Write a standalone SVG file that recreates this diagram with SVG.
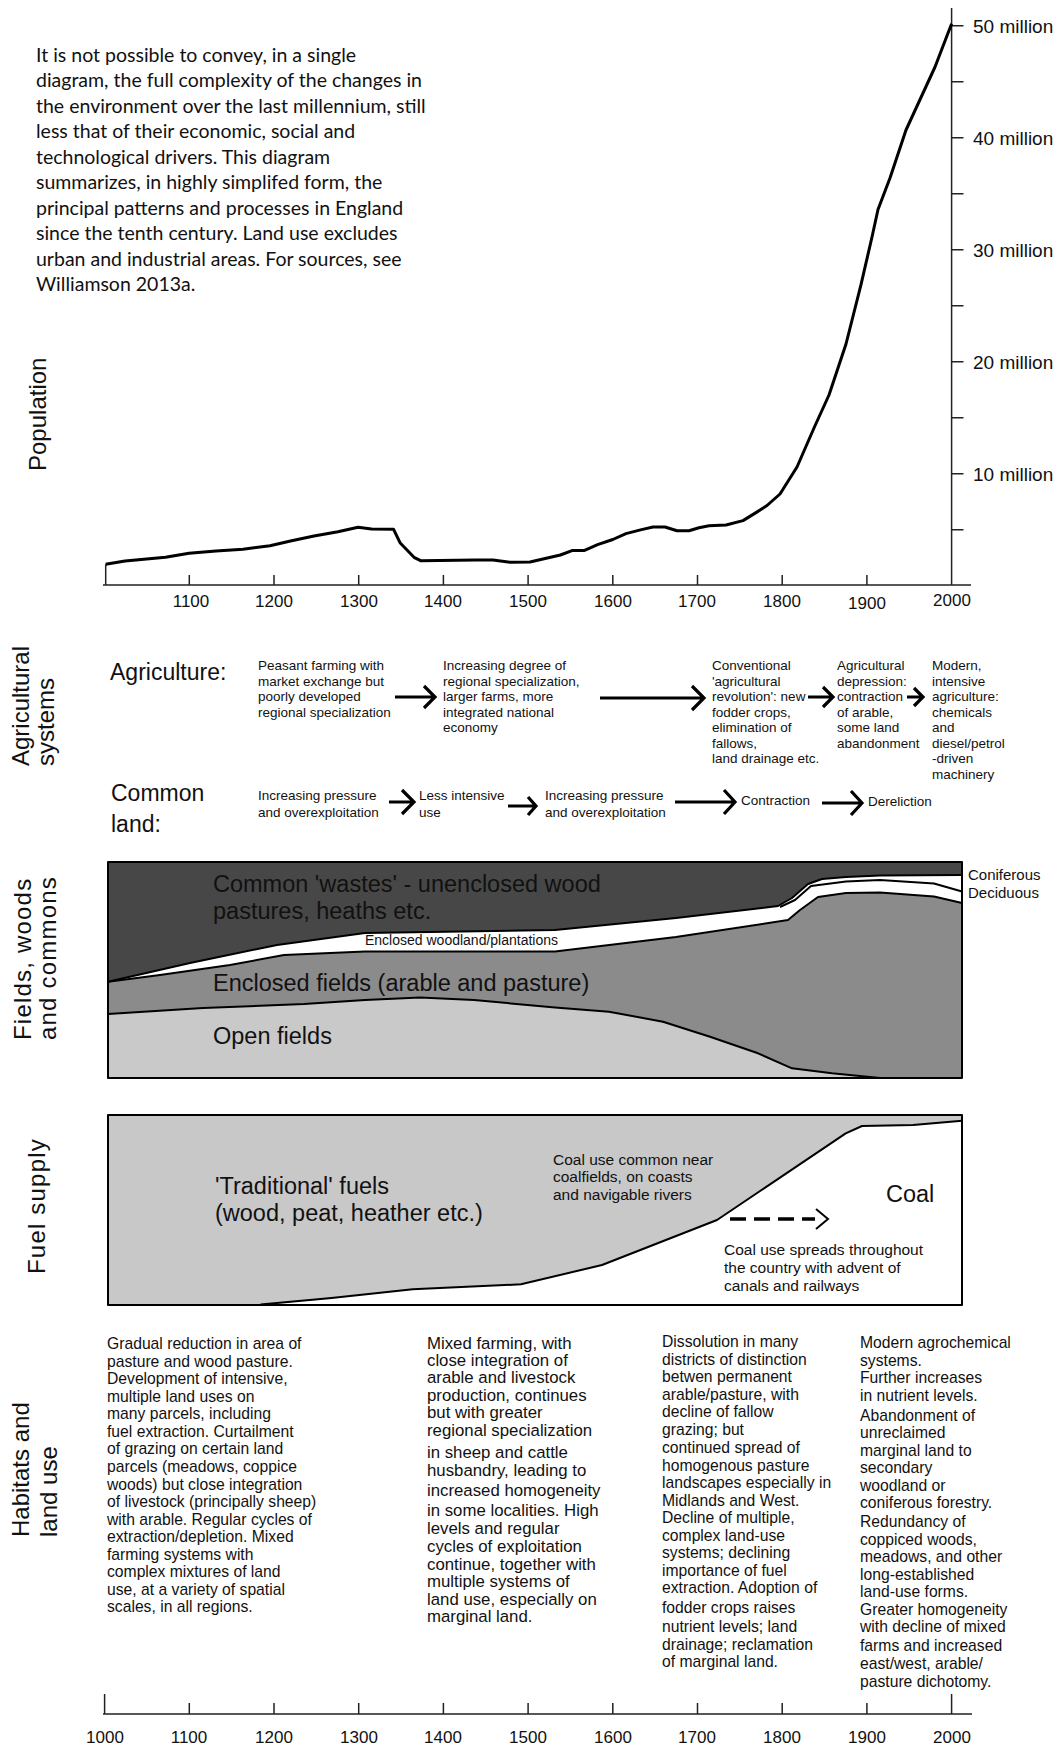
<svg xmlns="http://www.w3.org/2000/svg" width="1060" height="1748" viewBox="0 0 1060 1748">
<style>
.t{font-family:"Liberation Sans",Arial,sans-serif;fill:#111}
.intro{font-family:Lato,"Open Sans",sans-serif;font-size:19.5px;fill:#111}
.side{font-size:24px}
.sp{letter-spacing:1.2px}
.yl{font-size:19px}
.yr{font-size:17px;text-anchor:middle}
.ag{font-size:13.5px}
.big{font-size:23px}
.ch{font-size:23.5px}
.sm{font-size:15px}
.fn{font-size:15.5px}
.hb{font-size:15.7px}
.hb2{font-size:16.8px}
.ax{stroke:#222;stroke-width:1.5;fill:none}
.arr{stroke:#000;stroke-width:3.2;fill:none}
.bd{stroke:#000;stroke-width:2;fill:none;stroke-linejoin:round}
</style>
<rect width="1060" height="1748" fill="#fff"/>

<g id="intro" class="intro">
<text x="36" y="61.5">It is not possible to convey, in a single</text>
<text x="36" y="87">diagram, the full complexity of the changes in</text>
<text x="36" y="112.5">the environment over the last millennium, still</text>
<text x="36" y="138">less that of their economic, social and</text>
<text x="36" y="163.5">technological drivers. This diagram</text>
<text x="36" y="189">summarizes, in highly simplifed form, the</text>
<text x="36" y="214.5">principal patterns and processes in England</text>
<text x="36" y="240">since the tenth century. Land use  excludes</text>
<text x="36" y="265.5">urban and industrial areas. For sources, see</text>
<text x="36" y="291">Williamson 2013a.</text>
</g>

<g id="side-labels" class="t side">
<text transform="translate(46,471) rotate(-90)">Population</text>
<text transform="translate(29,766) rotate(-90)">Agricultural</text>
<text transform="translate(54,766) rotate(-90)">systems</text>
<text class="sp" transform="translate(31,1040) rotate(-90)">Fields, woods</text>
<text class="sp" transform="translate(56,1040) rotate(-90)">and commons</text>
<text class="sp" transform="translate(45,1274) rotate(-90)">Fuel supply</text>
<text transform="translate(29,1537) rotate(-90)">Habitats and</text>
<text transform="translate(57,1537) rotate(-90)">land use</text>
</g>

<g id="population-chart">
<path class="ax" d="M951.6 8 V585 M103 585 H971 M105.7 564.3 V585"/>
<path class="ax" d="M951.6 25.7 H963.5 M951.6 81.7 H963.5 M951.6 137.7 H963.5 M951.6 193.7 H963.5 M951.6 249.7 H963.5 M951.6 305.7 H963.5 M951.6 361.7 H963.5 M951.6 417.7 H963.5 M951.6 473.7 H963.5 M951.6 529.7 H963.5"/>
<path class="ax" d="M189.3 575 V585 M274 575 V585 M358.7 575 V585 M443.4 575 V585 M528.1 575 V585 M612.8 575 V585 M697.5 575 V585 M782.2 575 V585 M866.9 575 V585"/>
<polyline fill="none" stroke="#000" stroke-width="3" stroke-linejoin="round" points="105.7,564.3 125,561 165.5,557.3 189,553.3 216,551 243,549.3 270,545.7 290.5,541 314,536 338,531.7 358,527.3 371.6,529 393.6,529.3 400,542.7 414,557.3 420.6,560.7 476,560 493,560 510,562.3 530,562 560.4,555 572,550.6 584,550.6 597.6,544.7 612.8,539.5 626,533.6 641.5,529.6 653,527 665,527 677,530.8 689,530.8 699,527.7 709,525.7 726,525 743,520.6 756,512.6 767,505.5 780,494 797,467 814,428 829,395 846,344 861,284.6 872,237 878,209.5 890,178 906,130 935,67 951.6,23.7"/>
<g class="t yl">
<text x="973" y="33">50 million</text>
<text x="973" y="145">40 million</text>
<text x="973" y="257">30 million</text>
<text x="973" y="369">20 million</text>
<text x="973" y="481">10 million</text>
</g>
<g class="t yr">
<text x="191" y="607">1100</text>
<text x="274" y="607">1200</text>
<text x="359" y="607">1300</text>
<text x="443" y="607">1400</text>
<text x="528" y="607">1500</text>
<text x="613" y="607">1600</text>
<text x="697" y="607">1700</text>
<text x="782" y="607">1800</text>
<text x="867" y="609">1900</text>
<text x="952" y="606">2000</text>
</g>
</g>

<g id="agriculture" class="t">
<text class="big" x="110" y="680">Agriculture:</text>
<g class="ag">
<text x="258" y="670">Peasant farming with</text>
<text x="258" y="685.5">market exchange but</text>
<text x="258" y="701">poorly developed</text>
<text x="258" y="716.5">regional specialization</text>
</g>
<g class="ag">
<text x="443" y="670">Increasing degree of</text>
<text x="443" y="685.5">regional specialization,</text>
<text x="443" y="701">larger farms, more</text>
<text x="443" y="716.5">integrated national</text>
<text x="443" y="732">economy</text>
</g>
<g class="ag">
<text x="712" y="670">Conventional</text>
<text x="712" y="685.5">'agricultural</text>
<text x="712" y="701">revolution': new</text>
<text x="712" y="716.5">fodder crops,</text>
<text x="712" y="732">elimination of</text>
<text x="712" y="747.5">fallows,</text>
<text x="712" y="763">land drainage etc.</text>
</g>
<g class="ag">
<text x="837" y="670">Agricultural</text>
<text x="837" y="685.5">depression:</text>
<text x="837" y="701">contraction</text>
<text x="837" y="716.5">of arable,</text>
<text x="837" y="732">some land</text>
<text x="837" y="747.5">abandonment</text>
</g>
<g class="ag">
<text x="932" y="670">Modern,</text>
<text x="932" y="685.5">intensive</text>
<text x="932" y="701">agriculture:</text>
<text x="932" y="716.5">chemicals</text>
<text x="932" y="732">and</text>
<text x="932" y="747.5">diesel/petrol</text>
<text x="932" y="763">-driven</text>
<text x="932" y="778.5">machinery</text>
</g>
</g>

<g id="common-land" class="t">
<text class="big" x="111" y="801">Common</text>
<text class="big" x="111" y="832">land:</text>
<g class="ag">
<text x="258" y="800">Increasing pressure</text>
<text x="258" y="816.5">and overexploitation</text>
<text x="419" y="800">Less intensive</text>
<text x="419" y="816.5">use</text>
<text x="545" y="800">Increasing pressure</text>
<text x="545" y="816.5">and overexploitation</text>
<text x="741" y="804.5">Contraction</text>
<text x="868" y="806">Dereliction</text>
</g>
</g>

<g id="fields-chart">
<rect x="108" y="862" width="854" height="216" fill="#c9c9c9"/>
<path fill="#8b8b8b" d="M108 981.7 L160 975 L230 965 L284 955 L365 951.5 L555 951.5 L676 937 L788 920 L800 910 L818 897 L846 893 L880 892.5 L934 896.5 L962 903 V1078 H880 L832 1073.3 L792 1068.3 L758 1053.3 L710 1036.7 L663 1021.7 L609 1011.7 L555 1007.5 L474 1000 L420 997.5 L365 1000 L304 1004 L203 1008 L108 1014 Z"/>
<path fill="#fff" d="M108 981.7 L190 963 L277 945 L365 933 L555 930 L676 918 L778 906 L792 898 L808 884 L822 879 L846 877 L880 875.5 L962 875 V903 L934 896.5 L880 892.5 L846 893 L818 897 L800 910 L788 920 L676 937 L555 951.5 L365 951.5 L284 955 L230 965 L160 975 Z"/>
<path fill="#474747" d="M108 862 H962 V875 L880 875.5 L846 877 L822 879 L808 884 L792 898 L778 906 L676 918 L555 930 L365 933 L277 945 L190 963 L108 981.7 Z"/>
<path class="bd" d="M108 981.7 L190 963 L277 945 L365 933 L555 930 L676 918 L778 906 L792 898 L808 884 L822 879 L846 877 L880 875.5 L962 875"/>
<path class="bd" d="M108 981.7 L160 975 L230 965 L284 955 L365 951.5 L555 951.5 L676 937 L788 920 L800 910 L818 897 L846 893 L880 892.5 L934 896.5 L962 903"/>
<path class="bd" stroke-width="1.5" d="M780 907 L795 900 L811 886 L846 881.5 L880 880 L934 883.5 L962 891.5"/>
<path class="bd" d="M108 1014 L203 1008 L304 1004 L365 1000 L420 997.5 L474 1000 L555 1007.5 L609 1011.7 L663 1021.7 L710 1036.7 L758 1053.3 L792 1068.3 L832 1073.3 L880 1078"/>
<rect class="bd" x="108" y="862" width="854" height="216"/>
<g class="t">
<text class="ch" x="213" y="892">Common 'wastes' - unenclosed wood</text>
<text class="ch" x="213" y="919">pastures, heaths etc.</text>
<text x="365" y="945" font-size="14">Enclosed woodland/plantations</text>
<text class="ch" x="213" y="991">Enclosed fields (arable and pasture)</text>
<text class="ch" x="213" y="1044">Open fields</text>
<text class="sm" x="968" y="880">Coniferous</text>
<text class="sm" x="968" y="898">Deciduous</text>
</g>
</g>

<g id="fuel-chart">
<rect x="108" y="1115" width="854" height="190" fill="#fff"/>
<path fill="#c8c8c8" d="M108 1115 H962 V1120.7 L913 1125 L862 1126 L845.7 1133.3 L717 1220 L602 1265 L521 1284.3 L412.7 1289.3 L331.5 1298 L260.5 1304.5 L260.5 1305 H108 Z"/>
<path class="bd" d="M260.5 1304.5 L331.5 1298 L412.7 1289.3 L521 1284.3 L602 1265 L717 1220 L845.7 1133.3 L862 1126 L913 1125 L962 1120.7"/>
<rect class="bd" x="108" y="1115" width="854" height="190"/>
<g class="t">
<text class="ch" x="215" y="1194">'Traditional' fuels</text>
<text class="ch" x="215" y="1221">(wood, peat, heather etc.)</text>
<text class="fn" x="553" y="1164.5">Coal use common near</text>
<text class="fn" x="553" y="1182">coalfields, on coasts</text>
<text class="fn" x="553" y="1199.5">and navigable rivers</text>
<text class="ch" x="886" y="1202">Coal</text>
<text class="fn" x="724" y="1255">Coal use spreads throughout</text>
<text class="fn" x="724" y="1273">the country with advent of</text>
<text class="fn" x="724" y="1290.5">canals and railways</text>
</g>
</g>

<g id="habitats-1" class="t hb">
<text x="107" y="1349">Gradual reduction in area of</text>
<text x="107" y="1366.6">pasture and wood pasture.</text>
<text x="107" y="1384.1">Development of intensive,</text>
<text x="107" y="1401.7">multiple land uses on</text>
<text x="107" y="1419.2">many parcels, including</text>
<text x="107" y="1436.8">fuel extraction. Curtailment</text>
<text x="107" y="1454.4">of grazing on certain land</text>
<text x="107" y="1471.9">parcels (meadows, coppice</text>
<text x="107" y="1489.5">woods) but close integration</text>
<text x="107" y="1507">of livestock (principally sheep)</text>
<text x="107" y="1524.6">with arable. Regular cycles of</text>
<text x="107" y="1542.2">extraction/depletion. Mixed</text>
<text x="107" y="1559.7">farming systems with</text>
<text x="107" y="1577.3">complex mixtures of land</text>
<text x="107" y="1594.8">use, at a variety of spatial</text>
<text x="107" y="1612.4">scales, in all regions.</text>
</g>

<g id="habitats-2" class="t hb2">
<text x="427" y="1348.8">Mixed farming, with</text>
<text x="427" y="1366">close integration of</text>
<text x="427" y="1383">arable and livestock</text>
<text x="427" y="1400.5">production, continues</text>
<text x="427" y="1417.5">but with greater</text>
<text x="427" y="1436">regional specialization</text>
<text x="427" y="1457.5">in sheep and cattle</text>
<text x="427" y="1475.5">husbandry, leading to</text>
<text x="427" y="1495.5">increased homogeneity</text>
<text x="427" y="1515.5">in some localities. High</text>
<text x="427" y="1533.5">levels and regular</text>
<text x="427" y="1551.5">cycles of exploitation</text>
<text x="427" y="1570">continue, together with</text>
<text x="427" y="1587">multiple systems of</text>
<text x="427" y="1605">land use, especially on</text>
<text x="427" y="1622">marginal land.</text>
</g>

<g id="habitats-3" class="t hb">
<text x="662" y="1347.2">Dissolution in many</text>
<text x="662" y="1364.8">districts of distinction</text>
<text x="662" y="1382.2">betwen permanent</text>
<text x="662" y="1399.5">arable/pasture, with</text>
<text x="662" y="1417.2">decline of fallow</text>
<text x="662" y="1434.8">grazing; but</text>
<text x="662" y="1452.8">continued spread of</text>
<text x="662" y="1470.5">homogenous pasture</text>
<text x="662" y="1487.8">landscapes especially in</text>
<text x="662" y="1505.5">Midlands and West.</text>
<text x="662" y="1523.2">Decline of multiple,</text>
<text x="662" y="1540.5">complex land-use</text>
<text x="662" y="1558.2">systems; declining</text>
<text x="662" y="1575.5">importance of  fuel</text>
<text x="662" y="1593.2">extraction. Adoption of</text>
<text x="662" y="1612.8">fodder crops  raises</text>
<text x="662" y="1631.5">nutrient  levels;  land</text>
<text x="662" y="1649.5">drainage; reclamation</text>
<text x="662" y="1667.2">of marginal land.</text>
</g>

<g id="habitats-4" class="t hb">
<text x="860" y="1348.2">Modern agrochemical</text>
<text x="860" y="1365.5">systems.</text>
<text x="860" y="1382.8">Further increases</text>
<text x="860" y="1400.5">in nutrient levels.</text>
<text x="860" y="1420.5">Abandonment of</text>
<text x="860" y="1438.2">unreclaimed</text>
<text x="860" y="1455.5">marginal land to</text>
<text x="860" y="1473.2">secondary</text>
<text x="860" y="1490.5">woodland or</text>
<text x="860" y="1508.2">coniferous forestry.</text>
<text x="860" y="1526.5">Redundancy of</text>
<text x="860" y="1544.5">coppiced woods,</text>
<text x="860" y="1562.2">meadows, and other</text>
<text x="860" y="1579.8">long-established</text>
<text x="860" y="1597.2">land-use forms.</text>
<text x="860" y="1614.8">Greater homogeneity</text>
<text x="860" y="1632.2">with decline of mixed</text>
<text x="860" y="1650.5">farms and increased</text>
<text x="860" y="1668.8">east/west, arable/</text>
<text x="860" y="1687.2">pasture dichotomy.</text>
</g>

<g id="bottom-axis">
<path class="ax" d="M103 1714 H972 M104.6 1694 V1714 M951.6 1694 V1714 M189.3 1703 V1714 M274 1703 V1714 M358.7 1703 V1714 M443.4 1703 V1714 M528.1 1703 V1714 M612.8 1703 V1714 M697.5 1703 V1714 M782.2 1703 V1714 M866.9 1703 V1714"/>
<g class="t yr">
<text x="105" y="1743">1000</text>
<text x="189" y="1743">1100</text>
<text x="274" y="1743">1200</text>
<text x="359" y="1743">1300</text>
<text x="443" y="1743">1400</text>
<text x="528" y="1743">1500</text>
<text x="613" y="1743">1600</text>
<text x="697" y="1743">1700</text>
<text x="782" y="1743">1800</text>
<text x="867" y="1743">1900</text>
<text x="952" y="1743">2000</text>
</g>
</g>

<g id="connectors">
<path class="arr" d="M395 697 H435 M424 686 L435 697 L424 708"/>
<path class="arr" d="M600 698 H704 M692 686 L704 698 L692 710"/>
<path class="arr" d="M808 697 H833 M823 687 L833 697 L823 707"/>
<path class="arr" d="M907 697 H923 M914 688 L923 697 L914 706"/>
<path class="arr" d="M389 802 H414 M402 790 L414 802 L402 814"/>
<path class="arr" d="M508 806 H536 M528 797 L536 806 L528 815"/>
<path class="arr" d="M675 802 H735 M724 790 L735 802 L724 814"/>
<path class="arr" d="M822 803 H862 M851 791 L862 803 L851 815"/>
<path d="M730 1219 H815" stroke="#000" stroke-width="3.5" stroke-dasharray="16,8" fill="none"/>
<path d="M816 1209 L828 1219 L816 1229" stroke="#000" stroke-width="2" fill="none"/>
</g>
</svg>
